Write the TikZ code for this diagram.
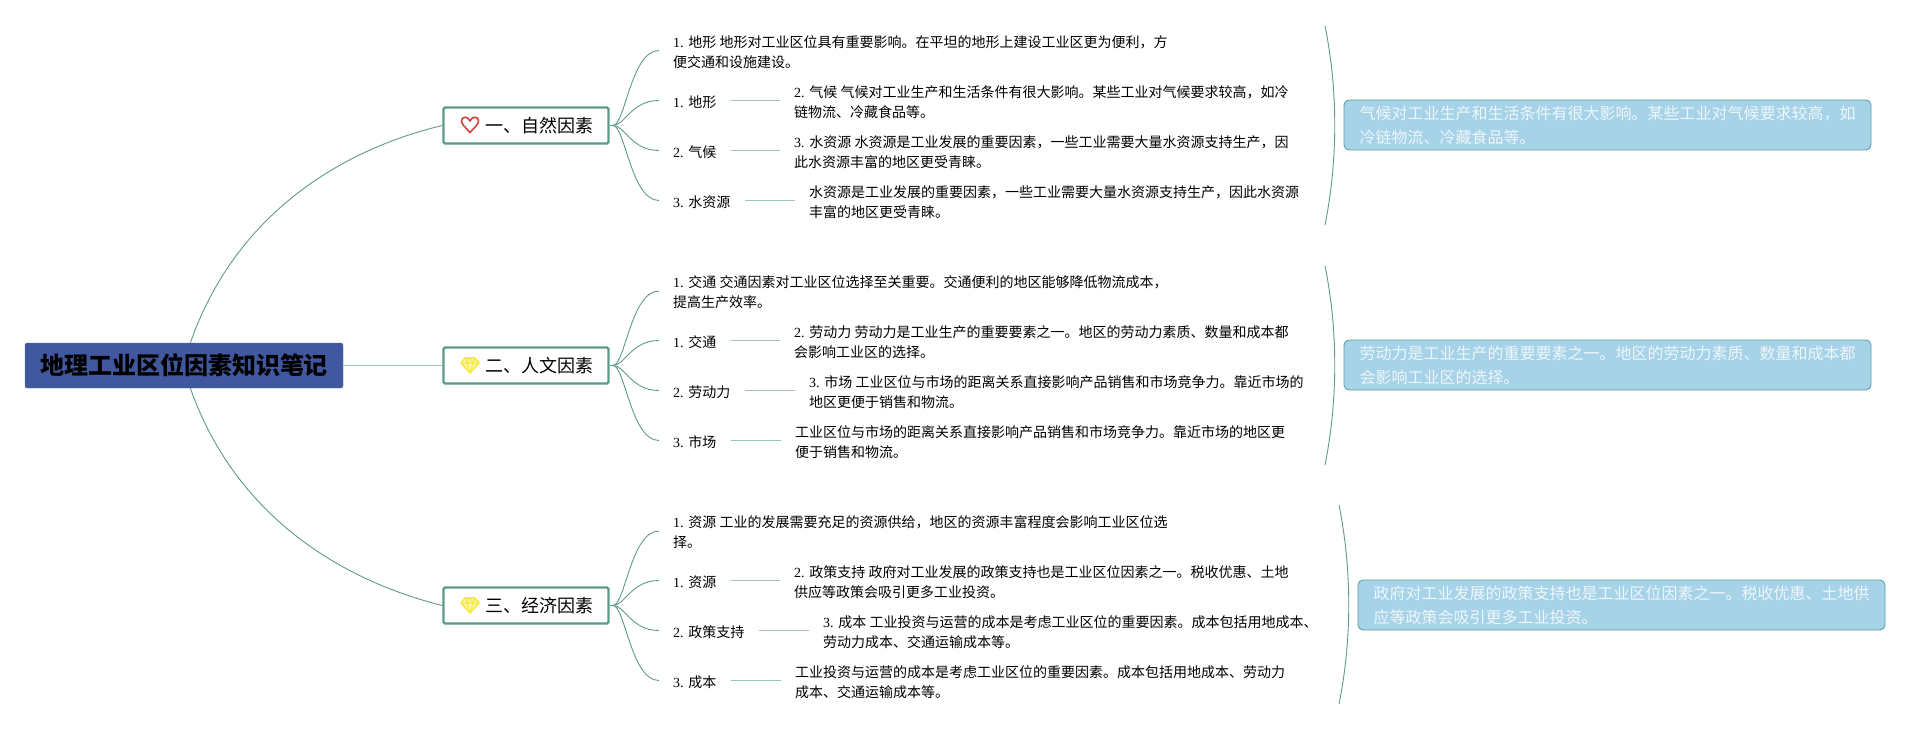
\documentclass[tikz,border=0pt]{standalone}
\usepackage{fontspec}
\setmainfont{Noto Sans CJK SC}
\newfontfamily\lat{Liberation Serif}
\usetikzlibrary{calc}
\definecolor{linec}{HTML}{5F9A8A}
\definecolor{linel}{HTML}{9CC4B9}
\definecolor{topicb}{HTML}{5B9A8B}
\definecolor{rootf}{HTML}{4158A0}
\definecolor{noteb}{HTML}{5E9DA6}
\definecolor{notef}{HTML}{A6D3E8}
\definecolor{notet}{HTML}{EEF6FB}
\definecolor{heartc}{HTML}{D0453A}
\definecolor{gemc}{HTML}{F7E93F}
\newcommand\nm[1]{{\lat #1. }}
\tikzset{
  x=1pt,y=-1pt,
  rootbox/.style={draw=rootf!85!white,fill=rootf,rounded corners=2pt,minimum width=318pt,minimum height=45pt,inner sep=0pt,font=\fontsize{24}{28}\selectfont\bfseries,text=black},
  topicbox/.style={draw=topicb,line width=2.4pt,fill=white,rounded corners=1.5pt,minimum width=165pt,minimum height=36pt,inner sep=0pt,font=\fontsize{18}{22}\selectfont,text=black},
  item/.style={anchor=west,inner xsep=14pt,inner ysep=0pt,align=left,yshift=-1.5pt,font=\fontsize{14}{20}\selectfont,text=black},
  notebox/.style={draw=noteb,line width=0.9pt,fill=notef,rounded corners=5pt,minimum width=527pt,minimum height=50pt,inner xsep=15pt,inner ysep=0pt,align=left,font=\fontsize{16}{24}\selectfont,text=notet},
  curvel/.style={draw=linec,line width=0.9pt},
  straightl/.style={draw=linel,line width=1.6pt},
  stubl/.style={draw=topicb,line width=1.6pt},
  heartpic/.pic={\draw[heartc,line width=1.6pt,line join=round] (0,7.5) .. controls (-5,2) and (-8.5,-1) .. (-8.5,-4) .. controls (-8.5,-9) and (-2,-9) .. (0,-4) .. controls (2,-9) and (8.5,-9) .. (8.5,-4) .. controls (8.5,-1) and (5,2) .. cycle;},
  gempic/.pic={\draw[gemc,line width=1.6pt,line join=round,fill=gemc!45!white] (-5,-7) -- (5,-7) -- (9,-2) -- (0,8) -- (-9,-2) -- cycle;
    \draw[gemc,line width=1pt] (-9,-2) -- (9,-2) (-3,-2) -- (0,8) -- (3,-2) (-5,-7) -- (-3,-2) -- (0,-7) -- (3,-2) -- (5,-7);}
}
\newcommand\junction[6]{%
  \draw[stubl] (#1.east) -- (#2);
  \foreach \t in {#3,#4,#5,#6}
    \draw[curvel] (#2) .. controls +(12,0) and ($(\t.west)+(-28,-1.5)$) .. ($(\t.west)+(0,-1.5)$);
}
\newcommand\rowline[2]{\draw[straightl] ([yshift=1.5pt]#1.east) -- ([yshift=1.5pt]#2.west);}
\begin{document}
\begin{tikzpicture}
\useasboundingbox (0,0) rectangle (1930,730);
\node[rootbox] (root) at (184,365.5) {\raisebox{-0.7pt}{地理工业区位因素知识笔记}};

\node[topicbox] (t1) at (526,125.5) {\hspace*{26pt}\raisebox{-0.7pt}{一、自然因素}};
\node[topicbox] (t2) at (526,365.5) {\hspace*{26pt}\raisebox{-0.7pt}{二、人文因素}};
\node[topicbox] (t3) at (526,605.5) {\hspace*{26pt}\raisebox{-0.7pt}{三、经济因素}};
\pic at (470,125) {heartpic};
\pic at (470,365) {gempic};
\pic at (470,605) {gempic};

\draw[curvel] ($(root.north west)!0.52!(root.north east)$) .. controls (235,215) and (340,150) .. (t1.west);
\draw[straightl] (root.east) -- (t2.west);
\draw[curvel] ($(root.south west)!0.52!(root.south east)$) .. controls (235,515) and (340,580) .. (t3.west);

\coordinate (j1) at (613,125.5);
\coordinate (j2) at (613,365.5);
\coordinate (j3) at (613,605.5);

% row 1
\node[item] (a0) at (659,50.5) {\nm{1}地形 地形对工业区位具有重要影响。在平坦的地形上建设工业区更为便利，方\\便交通和设施建设。};
\node[item] (a1) at (659,100.5) {\nm{1}地形};
\node[item] (a1x) at (780,100.5) {\nm{2}气候 气候对工业生产和生活条件有很大影响。某些工业对气候要求较高，如冷\\链物流、冷藏食品等。};
\node[item] (a2) at (659,150.5) {\nm{2}气候};
\node[item] (a2x) at (780,150.5) {\nm{3}水资源 水资源是工业发展的重要因素，一些工业需要大量水资源支持生产，因\\此水资源丰富的地区更受青睐。};
\node[item] (a3) at (659,200.5) {\nm{3}水资源};
\node[item] (a3x) at (795,200.5) {水资源是工业发展的重要因素，一些工业需要大量水资源支持生产，因此水资源\\丰富的地区更受青睐。};
\junction{t1}{j1}{a0}{a1}{a2}{a3}
\rowline{a1}{a1x}
\rowline{a2}{a2x}
\rowline{a3}{a3x}

% row 2
\node[item] (b0) at (659,291) {\nm{1}交通 交通因素对工业区位选择至关重要。交通便利的地区能够降低物流成本，\\提高生产效率。};
\node[item] (b1) at (659,340.5) {\nm{1}交通};
\node[item] (b1x) at (780,340.5) {\nm{2}劳动力 劳动力是工业生产的重要要素之一。地区的劳动力素质、数量和成本都\\会影响工业区的选择。};
\node[item] (b2) at (659,390.5) {\nm{2}劳动力};
\node[item] (b2x) at (795,390.5) {\nm{3}市场 工业区位与市场的距离关系直接影响产品销售和市场竞争力。靠近市场的\\地区更便于销售和物流。};
\node[item] (b3) at (659,440.5) {\nm{3}市场};
\node[item] (b3x) at (781,440.5) {工业区位与市场的距离关系直接影响产品销售和市场竞争力。靠近市场的地区更\\便于销售和物流。};
\junction{t2}{j2}{b0}{b1}{b2}{b3}
\rowline{b1}{b1x}
\rowline{b2}{b2x}
\rowline{b3}{b3x}

% row 3
\node[item] (c0) at (659,531) {\nm{1}资源 工业的发展需要充足的资源供给，地区的资源丰富程度会影响工业区位选\\择。};
\node[item] (c1) at (659,580.5) {\nm{1}资源};
\node[item] (c1x) at (780,580.5) {\nm{2}政策支持 政府对工业发展的政策支持也是工业区位因素之一。税收优惠、土地\\供应等政策会吸引更多工业投资。};
\node[item] (c2) at (659,630.5) {\nm{2}政策支持};
\node[item] (c2x) at (809,630.5) {\nm{3}成本 工业投资与运营的成本是考虑工业区位的重要因素。成本包括用地成本、\\劳动力成本、交通运输成本等。};
\node[item] (c3) at (659,680.5) {\nm{3}成本};
\node[item] (c3x) at (781,680.5) {工业投资与运营的成本是考虑工业区位的重要因素。成本包括用地成本、劳动力\\成本、交通运输成本等。};
\junction{t3}{j3}{c0}{c1}{c2}{c3}
\rowline{c1}{c1x}
\rowline{c2}{c2x}
\rowline{c3}{c3x}

% summaries
\coordinate (s1a) at (1325,26); \coordinate (s1b) at (1325,225);
\coordinate (s2a) at (1325,266); \coordinate (s2b) at (1325,465);
\coordinate (s3a) at (1339,505); \coordinate (s3b) at (1339,704);
\draw[curvel] (s1a) .. controls (1338,90) and (1338,160) .. (s1b);
\draw[curvel] (s2a) .. controls (1338,330) and (1338,400) .. (s2b);
\draw[curvel] (s3a) .. controls (1352,570) and (1352,640) .. (s3b);
\node[notebox] (n1) at (1607.5,125) {\raisebox{-1pt}{气候对工业生产和生活条件有很大影响。某些工业对气候要求较高，如}\\\raisebox{-1pt}{冷链物流、冷藏食品等。}};
\node[notebox] (n2) at (1607.5,365) {\raisebox{-1pt}{劳动力是工业生产的重要要素之一。地区的劳动力素质、数量和成本都}\\\raisebox{-1pt}{会影响工业区的选择。}};
\node[notebox] (n3) at (1621.5,605) {\raisebox{-1pt}{政府对工业发展的政策支持也是工业区位因素之一。税收优惠、土地供}\\\raisebox{-1pt}{应等政策会吸引更多工业投资。}};
\end{tikzpicture}
\end{document}
